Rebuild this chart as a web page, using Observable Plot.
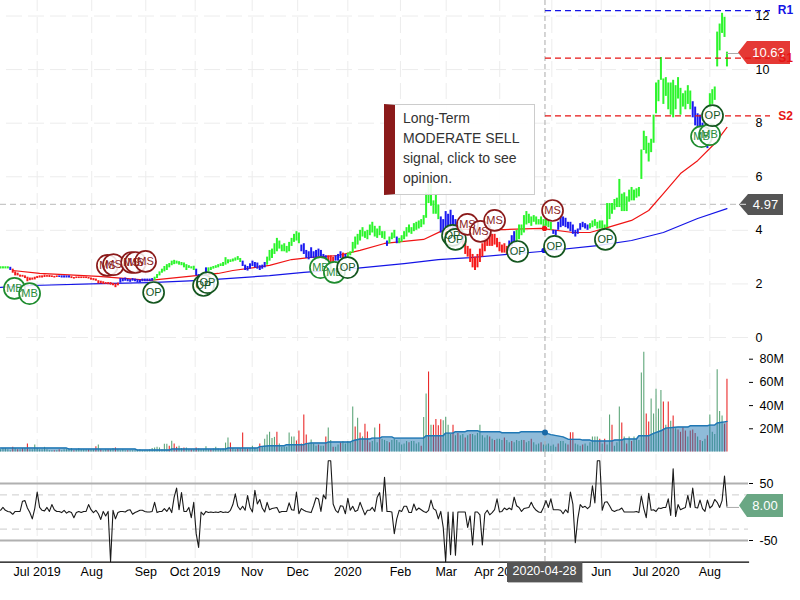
<!DOCTYPE html>
<html><head><meta charset="utf-8">
<script src="https://cdn.jsdelivr.net/npm/d3@7"></script>
<script src="https://cdn.jsdelivr.net/npm/@observablehq/plot@0.6"></script>
<style>
html,body{margin:0;padding:0;background:#fff}
#c{position:relative;width:800px;height:600px;overflow:hidden;font-family:"Liberation Sans",Arial,sans-serif}
#c svg{position:absolute;left:0;overflow:visible;background:transparent}
.tag{position:absolute;color:#fff;text-align:center;font-size:13px}
</style></head><body><div id="c"></div>
<script>
const high=[2.64,2.64,2.64,2.64,2.62,2.55,2.45,2.4,2.33,2.32,
2.3,2.25,2.22,2.22,2.25,2.28,2.3,2.3,2.33,2.31,
2.32,2.3,2.28,2.3,2.3,2.3,2.3,2.3,2.3,2.27,
2.24,2.26,2.26,2.26,2.26,2.26,2.24,2.22,2.2,2.18,
2.12,2.1,2.08,2.05,2.05,2.05,2.02,2,2.03,2.2,
2.2,2.22,2.18,2.16,2.2,2.18,2.16,2.14,2.18,2.18,
2.18,2.18,2.2,2.25,2.35,2.45,2.55,2.65,2.72,2.76,
2.85,2.88,2.85,2.83,2.8,2.78,2.72,2.68,2.64,2.66,
2.55,2.35,2.35,2.35,2.6,2.6,2.62,2.65,2.68,2.72,
2.75,2.8,2.98,2.9,2.9,2.93,2.97,3.02,2.95,2.85,
2.7,2.65,2.75,2.85,2.8,2.78,2.68,2.7,2.8,3,
3.25,3.3,3.5,3.7,3.6,3.45,3.5,3.4,3.55,3.7,
3.85,3.95,3.9,3.45,3.5,3.25,3.2,3.35,3.2,3.25,
3.3,3.25,3.1,3.05,3.05,3.05,3,3.05,3.1,3.2,
3.15,3.1,3.15,3.2,3.55,3.75,3.85,4,4.1,3.95,
4,4.2,4.3,4.15,4.05,4.15,3.95,3.95,3.6,3.75,
3.9,4,3.75,3.7,3.8,3.95,4.1,4.2,4.1,4.25,
4.3,4.35,4.4,4.55,5.4,5.85,5.7,5.1,5.3,4.95,
4.5,4.4,4.7,4.6,4.75,4.55,4.4,4.3,4.1,3.8,
3.6,3.4,3.3,3.1,3,3.1,3.3,3.5,3.7,3.85,
3.9,3.85,3.85,3.7,3.55,3.45,3.5,3.4,3.6,3.8,
3.95,4,4.2,4.2,4.55,4.7,4.6,4.5,4.55,4.5,
4.4,4.5,4.4,4.45,4.4,4.3,4,4,4.3,4.5,
4.5,4.45,4.3,4.3,4.2,4,4.05,4.25,4.3,4.25,
4.2,4.25,4.35,4.4,4.3,4.35,4.35,4.2,5,5,
5,5.15,5.2,5.9,5.35,5.4,5.25,5.5,5.6,5.5,
5.55,5.6,7,7.7,7.5,7.25,7.4,8.3,9.5,9.6,
10.45,9.65,9.7,9.5,9.5,9.6,9.4,9.7,9.3,9.1,
9.2,9.4,9.2,8.8,8.6,8.35,8.3,8,7.8,7.7,
9.1,9.25,9.35,11.4,11.7,12.1,11.95,10.65];
const low=[2.56,2.56,2.56,2.56,2.5,2.4,2.3,2.3,2.25,2.25,
2.2,2.08,2.12,2.14,2.15,2.2,2.22,2.22,2.24,2.25,
2.24,2.24,2.22,2.24,2.24,2.22,2.22,2.22,2.22,2.2,
2.18,2.2,2.2,2.2,2.2,2.2,2.18,2.14,2.12,2.1,
2,2,1.98,1.98,1.97,1.95,1.93,1.86,1.93,2.03,
2.08,2.1,2.08,2.06,2.1,2.08,2.04,2.04,2.08,2.08,
2.08,2.08,2.1,2.12,2.2,2.3,2.4,2.45,2.5,2.6,
2.68,2.72,2.74,2.7,2.68,2.6,2.5,2.58,2.56,2.5,
2.3,2.16,2.2,2.2,2.3,2.45,2.5,2.55,2.58,2.6,
2.65,2.65,2.7,2.75,2.8,2.82,2.85,2.88,2.8,2.65,
2.5,2.48,2.55,2.65,2.6,2.55,2.5,2.55,2.6,2.7,
2.85,2.95,3.1,3.2,3.3,3.2,3.2,3.15,3.2,3.4,
3.55,3.6,3.5,3.2,3.1,2.95,2.9,2.95,2.95,2.95,
3,3,2.95,2.85,2.85,2.8,2.8,2.85,2.85,2.95,
2.95,2.95,3,3.05,3.15,3.3,3.45,3.6,3.75,3.7,
3.65,3.8,3.9,3.75,3.7,3.8,3.7,3.65,3.4,3.5,
3.65,3.7,3.5,3.5,3.55,3.65,3.75,3.9,3.85,3.95,
4,4.05,4.1,4.2,4.45,5,4.9,4.6,4.6,4.4,
3.9,3.8,4.1,4.05,4.1,4,3.85,3.8,3.6,3.4,
3.1,3,2.8,2.6,2.5,2.6,2.8,3,3.2,3.4,
3.4,3.4,3.45,3.35,3.2,3.15,3.15,3.1,3.2,3.4,
3.5,3.5,3.65,3.8,3.9,4.2,4.25,4.15,4.3,4.2,
4.2,4.2,4.1,4.15,4.1,4,3.85,3.8,4,4.1,
4.15,4.1,4.05,3.95,3.85,3.75,3.85,4,4.1,4.05,
4,4.05,4.1,4.15,4.05,4.05,4.05,4.05,4.1,4.4,
4.6,4.75,4.85,4.85,4.7,4.7,4.7,5.05,5.1,5.1,
5.2,5.25,5.9,6.98,6.85,6.55,6.9,7.25,8.35,8.8,
9.6,8.7,9,8.5,8.3,8.2,8.5,8.9,8.3,8.6,
8.5,8.7,8.5,8.2,7.9,7.8,7.6,7.5,7.3,7.05,
8.5,8.7,8.85,10.1,10.7,11.35,11.2,10.1];
const signalStart=[0,4,5,24,29,49,63,80,85,99,109,123,134,137,140,141,142,158,159,162,163,180,188,208,211,226,241,283,290];
const signalName=["up","flat","down","flat","down","flat","up","flat","up","flat","up","flat","down","flat","down","flat","up","flat","up","flat","up","flat","down","flat","up","flat","up","flat","up"];
const smaShortDay=[5,16,40,61,89,95,110,119,127,138,147,157,173,180,184,192,206,221,234,241,248,258,265,271,278,285,292,297];
const smaShort=[2.5,2.39,2.28,2.13,2.39,2.5,2.69,2.91,2.99,3.06,3.25,3.51,3.66,3.96,4.07,4.03,4.03,4.07,3.92,3.92,4.1,4.37,4.74,5.37,6.12,6.6,7.24,7.84];
const smaLongDay=[0,13,41,61,82,110,124,144,165,179,192,221,244,258,271,285,297];
const smaLong=[1.87,1.94,2.01,2.05,2.13,2.31,2.43,2.57,2.76,2.91,2.98,3.21,3.43,3.62,3.92,4.44,4.81];
const mbDay=[5.7,11.9,130.8,136.5,286.6,289.9];
const mbPrice=[1.83,1.64,2.61,2.43,7.5,7.57];
const opDay=[62.6,83,84.6,141.9,184.8,186,211.4,226.5,247.3,291.1];
const opPrice=[1.68,1.94,2.05,2.61,3.81,3.66,3.21,3.4,3.66,8.28];
const msDay=[43.7,46.2,53.6,55.2,59.3,190.9,196.2,202,225.7];
const msPrice=[2.69,2.72,2.8,2.8,2.84,4.22,3.96,4.37,4.74];
const levelName=["R1","S1","S2"];
const levelPrice=[12.2,10.43,8.27];
const levelColor=["#1414e6","#e61414","#e61414"];
const volume=[2,3,3,2,1,4,3,2,2,3,
3,7,2,2,6,3,2,2,4,2,
1,1,1,1,2,1,2,2,2,3,
1,2,3,2,2,2,2,2,2,4.5,
6,2,1,2,2,2,3,3.5,2,1,
2,1,1,1,1,1,1.5,2,1,1,
1,2,3,3.5,4,3.5,2,6.6,6.6,5,
9.2,6.9,4,5,3,3.5,3.5,2,2,2,
3.5,2.5,2,2,4.5,2,2,2.5,4,2.5,
2,2.5,7.7,12,7.7,3,2,2.5,3,16.3,
3,2.5,3,5,3,2,7,4,11,14.6,
17,11.7,12.6,17,7,4,4,4,16.3,13,
13,9.5,18,7,31.8,14.6,7,10.3,7,5,
6,5,5,13,20.6,10,4,4,6,8,
9,7,9,8,38.7,21.5,29,16.3,13,24,
17.2,8,9,20.6,8,24,11,10,9,8,
10,11,10,8,6,7,9,8,9,9,
7,8,5,29.8,49.9,69,23,23,28,22.6,
27.8,27,30,23,15,23,14,16,14,15,
12,14,15,15,14,16,23,14,12,14,
13,11,10,11,11,10,12,10,8,9,
8,10,9,10,10,8,9,11,8,6,
7,8,6,6,7,5,6,4,7,9,
9,7,6,16.6,16.6,7,6,5,6,7,
5,8,13,13,13,11,7,11,6,31.8,
23,5,8,38.7,25,13,7,13,9,13,
11,10,68,86,32.7,25.8,45.6,32.7,54,37,
53,43,23,43,26.6,31,20,19,17,21,
18,13,18,19,16,13,10,9,11,14,
31.8,17,15,71,35,31,24,62.7];
const volumeDownDays=[5,7,9,11,22,24,30,36,39,41,44,47,52,69,71,72,75,78,80,86,94,97,99,101,106,113,121,122,123,124,125,130,133,136,139,145,147,149,150,151,155,159,167,172,175,177,178,179,180,185,187,190,192,200,202,206,209,214,217,221,228,232,233,234,238,245,247,250,254,256,258,264,265,271,273,275,277,278,279,280,282,283,284,286,289,296,297];
const avgVolDay=[0,27,28,55,56,69,70,92,93,105,106,110,116,117,124,125,127,133,134,143,144,147,151,152,155,156,160,161,173,174,181,182,185,186,190,191,195,196,204,205,212,213,222,223,225,230,232,237,238,241,242,250,251,254,255,260,261,265,267,270,272,277,281,282,289,290,292,293,296,297];
const avgVol=[3.4,3.4,2.6,2.6,1.7,1.7,2.6,2.6,3.4,3.4,4.6,5.4,5.4,6.3,6.3,7.2,7.7,7.7,8.6,8.6,9.7,11.2,11.2,12,12,13,13,12,12,14,14,16.3,16.3,17.5,17.5,18.3,18.3,17.5,17.5,16.6,16.6,17.5,17.5,16.3,15,13,11,10.9,10.3,10.3,9.5,9.5,10.3,10.3,11.2,11.2,14,14,16,18.3,20.6,21.5,21.5,22.6,22.6,23.2,23.2,25,26,26.4];
const cci=[3,8,3,1,0,-4,1,1,1,19,
20,7,-1,-12,6,35,8,3,2,8,
1,13,4,1,1,-1,3,-2,1,-1,
-10,-1,1,-1,1,1,13,4,-1,3,
-3,-13,1,-7,1,-87,3,-12,-1,1,
1,0,3,4,-4,-1,1,3,3,1,
0,0,1,17,-1,1,1,6,1,8,
-1,26,42,4,34,1,1,8,-10,17,
-38,-62,0,-5,1,-1,0,-1,0,-1,
1,-1,0,-1,3,13,32,10,4,10,
3,29,8,0,38,14,22,7,0,17,
4,6,7,8,-1,1,1,1,16,4,
3,35,-3,6,3,1,0,-1,11,25,
23,1,30,23,90,90,14,3,-1,11,
10,-3,24,3,10,1,3,17,6,-5,
3,3,8,1,26,34,1,61,1,1,
0,-38,-12,3,1,10,10,-1,-1,14,
3,7,4,1,-1,3,21,6,3,-12,
1,-27,-87,0,-75,0,-76,0,0,0,
0,-27,-7,-58,0,0,-5,-58,-3,3,
-5,-1,4,23,0,1,7,4,7,4,
26,11,8,1,6,7,8,17,8,3,
0,-1,8,20,8,23,4,4,4,3,
-3,4,-1,35,14,-54,-12,13,8,10,
6,10,46,16,90,90,3,17,18,11,
3,1,3,4,7,0,0,0,0,0,
1,-1,28,6,-10,33,3,4,1,7,
6,8,8,23,-6,76,-8,13,4,6,
8,29,8,42,8,7,21,6,1,21,
7,11,22,17,8,20,63,10];
const monthDay=[15,37.3,59.4,79.6,102.9,121.5,142,163.5,182.2,204.1,225.4,245.6,268,290];
const monthLabel=["Jul 2019","Aug","Sep","Oct 2019","Nov","Dec","2020","Feb","Mar","Apr 2020","May","Jun","Jul 2020","Aug"];
const priceTicks=[0,2,4,6,8,10,12];
const volumeTicks=[20,40,60,80];
const cciTicks=[-50,50];
const cciBands=[-30,30];
const cursorDay=222.6, cursorPrice=4.97, lastPrice=10.6, lastCci=8;
const cursorShort=4.07, cursorLong=3.25, cursorVol=16.8;

const k=2.446, fam='"Liberation Sans",Arial,sans-serif';
const days=d3.range(high.length);
const signalOf=i=>signalName[d3.bisectRight(signalStart,i)-1];
const colors={up:"#2cf52c",flat:"#1a1af0",down:"#f51c1c"};
const down=new Set(volumeDownDays);
const host=document.getElementById("c");
function place(p,top){p.style.top=top+"px";host.appendChild(p);}
const style={fontFamily:fam,fontSize:"12.5px",background:"transparent",overflow:"visible",color:"#000"};
const xs=R=>({type:"linear",domain:[0,R/k],range:[0,R],axis:null});
const grid=(phase)=>Plot.ruleX(monthDay,{stroke:"#ececec",strokeWidth:1,strokeDasharray:"16,6",strokeDashoffset:phase});
const cursor=()=>Plot.ruleX([cursorDay],{stroke:"#aaa",strokeDasharray:"5,3"});

// volume
const bars=days.map(i=>({i,v:volume[i],d:down.has(i)}));
place(Plot.plot({width:800,height:107,marginLeft:0,marginRight:52,marginTop:0,marginBottom:0,style,
  x:xs(748),y:{domain:[0,80],range:[106.5,13.7]},
  marks:[grid(-6),
    Plot.ruleX(bars,{x:"i",y1:0,y2:"v",stroke:d=>d.d?"#ea2a2a":"#5ea67a",strokeWidth:1.1}),
    Plot.areaY(avgVolDay.map((d,i)=>({d,v:avgVol[i]})),{x:"d",y:"v",fill:"#1f77b4",fillOpacity:.5}),
    Plot.lineY(avgVolDay.map((d,i)=>({d,v:avgVol[i]})),{x:"d",y:"v",stroke:"#1f77b4",strokeWidth:1.4}),
    cursor(),
    Plot.dot([0],{x:()=>cursorDay,y:()=>cursorVol,r:3,fill:"#1a6aa8"}),
    Plot.axisY({anchor:"right",label:null,ticks:volumeTicks,tickSize:4,tickPadding:7,tickFormat:d=>d+"M"})
  ]}),345);

// cci
place(Plot.plot({width:800,height:148,marginLeft:0,marginRight:52,marginTop:0,marginBottom:38.3,style,
  x:{...xs(748),axis:undefined},y:{domain:[-50,50],range:[88,31]},
  marks:[grid(-2),
    Plot.ruleY(cciBands,{stroke:"#ccc",strokeDasharray:"7,5"}),
    Plot.ruleY(cciTicks,{stroke:"#b0b0b0",strokeWidth:2}),
    cursor(),
    Plot.line(days,{x:d=>d,y:d=>cci[d],stroke:"#1a1a1a",strokeWidth:1.1}),
    Plot.ruleY([lastCci],{x1:days.length-1,x2:739/k,stroke:"#aaa"}),
    Plot.frame({anchor:"bottom",stroke:"#000",strokeWidth:1.2}),
    Plot.axisY({anchor:"right",label:null,ticks:cciTicks,tickSize:4,tickPadding:7,tickFormat:d=>String(d)}),
    Plot.axisX({anchor:"bottom",label:null,ticks:monthDay,tickSize:0,tickPadding:5,tickFormat:d=>monthLabel[monthDay.indexOf(d)]})
  ]}),452);

// annotation tags lie under the main layer, so the S1 label stays legible
function tag(text,bg,tip,left,right,top,bottom,fs){
  const d=document.createElement("div");d.className="tag";d.textContent=text;
  const w=right-tip,h=bottom-top,bodyAt=(left-tip)/w*100;
  d.style.cssText=`left:${tip}px;top:${top}px;width:${w}px;height:${h}px;line-height:${h}px;background:${bg};font-size:${fs}px;padding-left:${left-tip}px;box-sizing:border-box;clip-path:polygon(0 50%,${bodyAt}% 0,100% 0,100% 100%,${bodyAt}% 100%)`;
  host.appendChild(d);return d;
}
tag("10.63","#e53935",738,747,790,41,64,13);
tag("4.97","#555",739,748,783,194,215,13);
tag("8.00","#6aa784",739,747,783,494,517,13);

// main
const pts=(ds,ps)=>ds.map((d,i)=>({d,p:ps[i]}));
const sig=(ds,ps,stroke,textFill,label)=>[
  Plot.dot(pts(ds,ps),{x:"d",y:"p",r:10.5,fill:"#fff",fillOpacity:.85,stroke,strokeWidth:1.7}),
  Plot.text(pts(ds,ps),{x:"d",y:"p",text:()=>label,fill:textFill,fontSize:11})];
place(Plot.plot({width:800,height:345,marginLeft:0,marginRight:45,marginTop:0,marginBottom:0,style,
  x:xs(755),y:{domain:[0,12],range:[337,15.5]},
  marks:[grid(-17),
    Plot.ruleY(priceTicks,{stroke:"#ececec",strokeDasharray:"16,6",strokeDashoffset:-6}),
    cursor(),
    Plot.ruleY([cursorPrice],{x1:0,x2:746/k,stroke:"#c8c8c8",strokeWidth:1.3,strokeDasharray:"6,4"}),
    Plot.line(pts(smaLongDay,smaLong),{x:"d",y:"p",stroke:"#1414e6",strokeWidth:1.2}),
    Plot.line(pts(smaShortDay,smaShort),{x:"d",y:"p",stroke:"#f01414",strokeWidth:1.2}),
    Plot.ruleX(days,{x:d=>d,y1:d=>low[d],y2:d=>high[d],stroke:d=>colors[signalOf(d)],strokeWidth:2}),
    Plot.ruleY(levelPrice,{x1:545/k,x2:770/k,stroke:(d,i)=>levelColor[i],strokeWidth:1.3,strokeDasharray:"6,4"}),
    Plot.text(levelPrice,{x:()=>785/k,y:d=>d,text:(d,i)=>levelName[i],fill:(d,i)=>levelColor[i],fontWeight:"bold",fontSize:12}),
    Plot.ruleY([lastPrice],{x1:days.length-1,x2:739/k,stroke:"#aaa"}),
    Plot.dot([0],{x:()=>cursorDay-.2,y:()=>cursorShort,r:2.6,fill:"#f01414"}),
    Plot.dot([0],{x:()=>cursorDay-.4,y:()=>cursorLong,r:2.6,fill:"#1414e6"}),
    ...sig(mbDay,mbPrice,"#1e8c2e","#2a8c3a","MB"),
    ...sig(opDay,opPrice,"#14561f","#14561f","OP"),
    ...sig(msDay,msPrice,"#8b1a1a","#8b1a1a","MS"),
    Plot.axisY({anchor:"right",label:null,ticks:priceTicks,tickSize:0,tickPadding:0})
  ]}),0);

const dt=document.createElement("div");dt.textContent="2020-04-28";
dt.style.cssText="position:absolute;left:507px;top:562px;width:75px;height:20px;line-height:19px;background:#555;color:#fff;font-size:12.5px;text-align:center;box-shadow:1px 1px 0 #bbb";
host.appendChild(dt);
const tip=document.createElement("div");
tip.style.cssText="position:absolute;left:384px;top:104px;width:151px;height:91px;box-sizing:border-box;background:rgba(255,255,255,.9);border:1px solid #ccc;border-left:11px solid #8b1a1a;padding:3px 8px 0 8px;font-size:14px;line-height:20px;color:#333";
tip.innerHTML="Long-Term<br>MODERATE SELL<br>signal, click to see<br>opinion.";
host.appendChild(tip);
</script></body></html>
